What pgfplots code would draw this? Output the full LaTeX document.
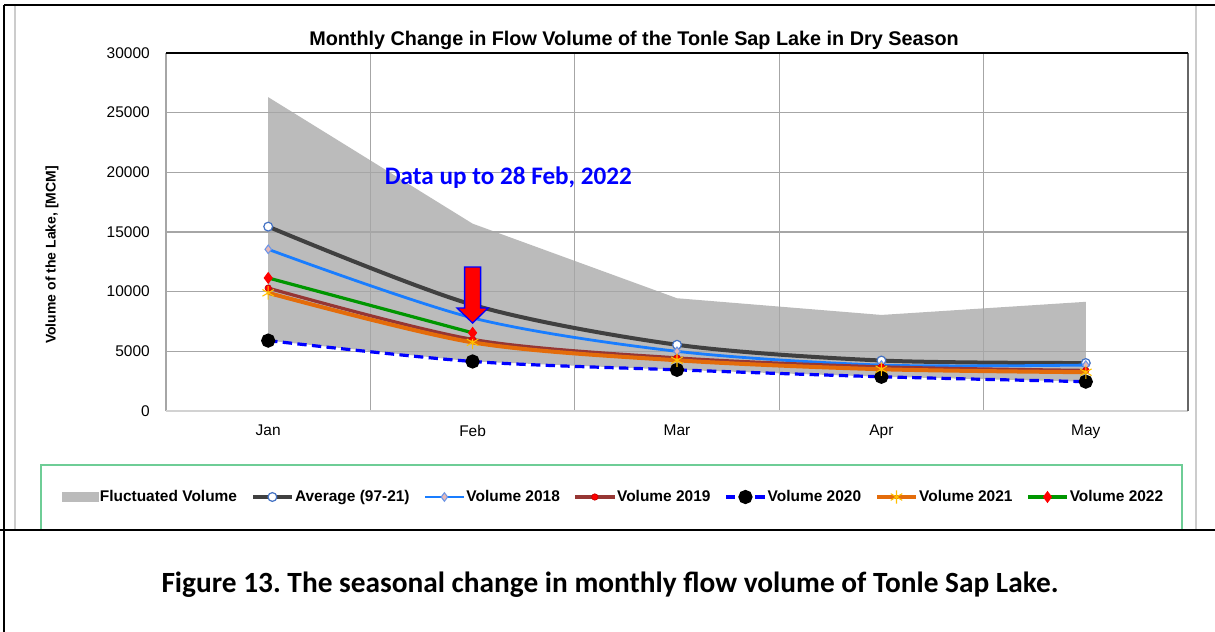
\documentclass[border=0pt]{standalone}
\usepackage{fontspec}
\setmainfont{Liberation Sans}
\newfontfamily\calibri{Carlito}
\usepackage{pgfplots}
\pgfplotsset{compat=1.18}
\frenchspacing

\definecolor{fillgray}{RGB}{187,187,187}
\definecolor{gridgray}{RGB}{166,166,166}
\definecolor{avgc}{RGB}{64,64,64}
\definecolor{avgmark}{RGB}{68,114,196}
\definecolor{c18}{RGB}{25,125,255}
\definecolor{c18fill}{RGB}{230,184,183}
\definecolor{c18edge}{RGB}{110,150,230}
\definecolor{c19}{RGB}{150,54,52}
\definecolor{c20}{RGB}{0,0,255}
\definecolor{c21}{RGB}{228,108,10}
\definecolor{c21mark}{RGB}{255,192,0}
\definecolor{c22}{RGB}{0,150,0}
\definecolor{legendgreen}{RGB}{110,205,150}

\begin{document}
\begin{tikzpicture}
\useasboundingbox (0,0) rectangle (911.25pt,-474pt);
\begin{scope}[x=0.75pt,y=-0.75pt]
 \fill[white] (0,0) rectangle (1215,632);
 \draw[line width=1.2pt] (4,5) -- (1215,5);
 \draw[line width=1.2pt] (4,5) -- (4,632);
 \draw[gray!40,line width=1.2pt] (15,6) -- (15,529);
 \draw[gray!40,line width=1.2pt] (1196,6) -- (1196,529);
 \draw[legendgreen,line width=1pt] (41,530) -- (41,465) -- (1182,465) -- (1182,530);
 \draw[line width=1.2pt] (0,530) -- (1215,530);
 \node[anchor=base, font=\bfseries\fontsize{14.85}{17}\selectfont] at (634,45) {Monthly Change in Flow Volume of the Tonle Sap Lake in Dry Season};
 \node[rotate=90, font=\bfseries\fontsize{10.5}{12}\selectfont] at (52,255) {Volume of the Lake, [MCM]};
 \node[anchor=base, font=\calibri\bfseries\fontsize{22}{25}\selectfont] at (610,592) {Figure 13. The seasonal change in monthly flow volume of Tonle Sap Lake.};
\end{scope}
\begin{axis}[
 at={(124.5pt,-308.25pt)}, anchor=south west,
 scale only axis, width=766.5pt, height=268.5pt,
 xmin=-0.5, xmax=4.5, ymin=0, ymax=30000,
 xtick={0,1,2,3,4}, xticklabels={Jan,Feb,Mar,Apr,May},
 minor xtick={0.5,1.5,2.5,3.5},
 ytick={0,5000,10000,15000,20000,25000,30000},
 xminorgrids=true, ymajorgrids=true, xmajorgrids=false,
 major grid style={draw=gridgray, line width=1pt},
 minor grid style={draw=gridgray, line width=1pt},
 major tick length=0pt, minor tick length=0pt,
 axis line style={draw=none},
 tick label style={font=\fontsize{11.6}{13}\selectfont},
 yticklabel style={anchor=east, inner sep=0pt, xshift=-12pt},
 xticklabel style={anchor=north, inner sep=0pt, yshift=-10.5pt},
 /pgf/number format/.cd, 1000 sep={}, assume math mode=true, /pgfplots/.cd,
 scaled y ticks=false,
 clip mode=individual,
 legend columns=7,
 legend style={draw=none, fill=none, at={(0.4374,-0.2402)}, anchor=center,
   font=\bfseries\fontsize{11.6}{13}\selectfont, nodes={inner sep=1pt},
   /tikz/every even column/.append style={column sep=9.5pt}},
 legend image code/.code={\draw[mark repeat=2,mark phase=2] plot coordinates {(0pt,0pt) (14.5pt,0pt) (29pt,0pt)};},
]
\addplot[fill=fillgray, draw=none,
  legend image code/.code={\fill[fillgray] (0pt,-3.75pt) rectangle (27.75pt,3.75pt);}]
  coordinates {(0,5900) (1,4150) (2,3450) (3,2870) (4,2460) (4,9150) (3,8050) (2,9450) (1,15700) (0,26300)} -- cycle;
\addlegendentry{Fluctuated Volume}

\draw[gridgray, line width=1pt] (axis cs:0.5,0) -- (axis cs:0.5,30000)
  (axis cs:1.5,0) -- (axis cs:1.5,30000)
  (axis cs:2.5,0) -- (axis cs:2.5,30000)
  (axis cs:3.5,0) -- (axis cs:3.5,30000)
  (axis cs:-0.5,5000) -- (axis cs:4.5,5000)
  (axis cs:-0.5,10000) -- (axis cs:4.5,10000)
  (axis cs:-0.5,15000) -- (axis cs:4.5,15000)
  (axis cs:-0.5,20000) -- (axis cs:4.5,20000)
  (axis cs:-0.5,25000) -- (axis cs:4.5,25000);

\addplot[avgc, line width=3pt, smooth, mark=*, mark size=3.3pt, mark options={fill=white, draw=avgmark, line width=0.9pt}]
  coordinates {(0,15450) (1,8900) (2,5550) (3,4230) (4,4020)};
\addlegendentry{Average (97-21)}

\addplot[c18, line width=2.1pt, smooth, mark=diamond*, mark size=3.2pt, mark options={fill=c18fill, draw=c18edge, line width=0.8pt}]
  coordinates {(0,13550) (1,7800) (2,5000) (3,3850) (4,3850)};
\addlegendentry{Volume 2018}

\addplot[c19, line width=2.4pt, smooth, mark=*, mark size=2.4pt, mark options={fill=red, draw=red!80!black, line width=0.5pt}]
  coordinates {(0,10300) (1,6000) (2,4450) (3,3700) (4,3400)};
\addlegendentry{Volume 2019}

\addplot[c20, line width=2.4pt, smooth, dash pattern=on 7pt off 4pt, mark=*, mark size=4.1pt, mark options={fill=black, draw=black, solid}]
  coordinates {(0,5900) (1,4150) (2,3450) (3,2870) (4,2460)};
\addlegendentry{Volume 2020}

\addplot[c21, line width=3pt, smooth, mark=asterisk, mark size=5pt, mark options={draw=c21mark, line width=0.8pt}]
  coordinates {(0,9900) (1,5750) (2,4250) (3,3500) (4,3250)};
\addlegendentry{Volume 2021}

\addplot[c22, line width=2.4pt, smooth, mark=diamond*, mark size=2.6pt, mark options={fill=red, draw=red}]
  coordinates {(0,11150) (1,6550)};
\addlegendentry{Volume 2022}

\draw[draw=blue, fill=red, line width=1pt] (axis cs:1,7370) -- ++(-11.6pt,11.25pt) -- ++(5.6pt,0pt) -- ++(0pt,30.75pt) -- ++(12pt,0pt) -- ++(0pt,-30.75pt) -- ++(5.6pt,0pt) -- cycle;
\node[anchor=base, text=blue, font=\calibri\bfseries\fontsize{18.9}{22}\selectfont] at (axis cs:1.175,18940) {Data up to 28 Feb, 2022};

\draw[gray!70, line width=1.2pt] (rel axis cs:0,0) -- (rel axis cs:0,1);
\draw[gray!35, line width=1.5pt] (rel axis cs:0,0) -- (rel axis cs:1,0);
\draw[black!60, line width=1.5pt] (rel axis cs:1,0) -- (rel axis cs:1,1);
\draw[black, line width=1.2pt] (rel axis cs:0,1) -- (rel axis cs:1,1);
\end{axis}
\end{tikzpicture}
\end{document}
